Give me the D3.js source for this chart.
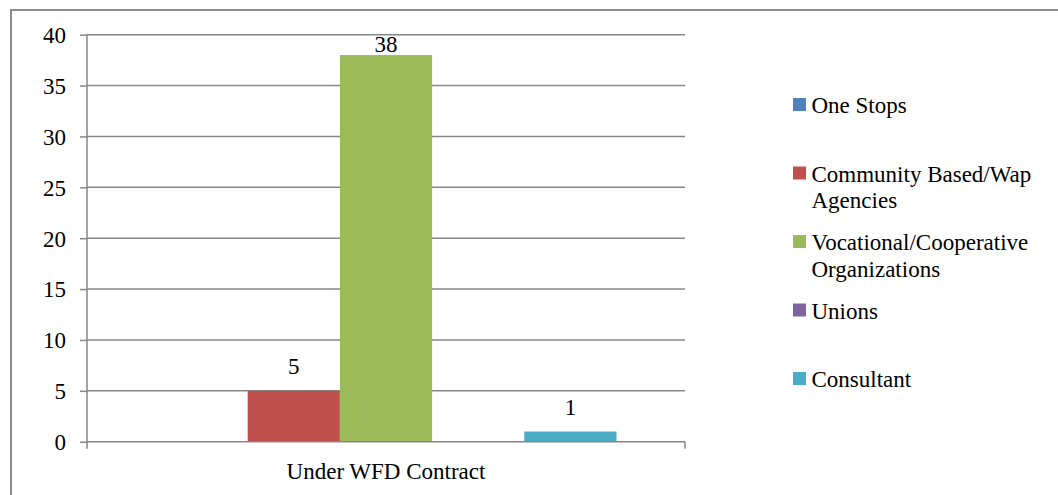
<!DOCTYPE html>
<html>
<head>
<meta charset="utf-8">
<script src="https://cdn.jsdelivr.net/npm/d3@7"></script>
</head>
<body style="margin:0; background:#fff">
<svg id="chart" width="1058" height="495"></svg>
<script>
const categories = ["Under WFD Contract"];
const seriesNames = ["One Stops", "Community Based/Wap Agencies", "Vocational/Cooperative Organizations", "Unions", "Consultant"];
const seriesValues = [0, 5, 38, 0, 1];
const seriesColors = ["#4F81BD", "#C0504D", "#9BBB59", "#8064A2", "#4BACC6"];
const legendLines = [["One Stops"], ["Community Based/Wap", "Agencies"], ["Vocational/Cooperative", "Organizations"], ["Unions"], ["Consultant"]];
const yTicks = [0, 5, 10, 15, 20, 25, 30, 35, 40];

const W = 1058, H = 495;
const margin = { top: 34.7, right: 373, bottom: 53.3, left: 87 };
const width = W - margin.left - margin.right;
const height = H - margin.top - margin.bottom;
const textStyle = "font-family:'Liberation Serif';font-size:23px";
const grid = "#878787";

const root = d3.select("#chart");

// outer frame (runs past the right and bottom edges)
root.append("rect")
    .attr("x", 11).attr("y", 10)
    .attr("width", 1200).attr("height", 700)
    .attr("fill", "none")
    .attr("stroke", "#8c8c8c")
    .attr("stroke-width", 2);

const svg = root.append("g")
    .attr("transform", `translate(${margin.left},${margin.top})`);

const y = d3.scaleLinear().domain([0, 40]).range([height, 0]);

const x0 = d3.scaleBand()
    .domain(categories)
    .range([0, width])
    .padding(0);

// bars take the middle of the category, Excel-style gap on each side
const groupInset = 68.5;
const x1 = d3.scaleBand()
    .domain(seriesNames)
    .range([groupInset, x0.bandwidth() - groupInset])
    .padding(0);

// gridlines
svg.selectAll(".grid")
    .data(yTicks.filter(d => d > 0))
    .enter().append("line")
    .attr("x1", 0).attr("x2", width)
    .attr("y1", d => y(d)).attr("y2", d => y(d))
    .attr("stroke", grid)
    .attr("stroke-width", 1.5);

// y axis
const yAxis = svg.append("g")
    .call(d3.axisLeft(y).tickValues(yTicks).tickSize(7).tickPadding(14));
yAxis.attr("font-family", null).attr("font-size", null);
yAxis.select(".domain").remove();
yAxis.selectAll(".tick line").attr("stroke", grid).attr("stroke-width", 1.5);
yAxis.selectAll(".tick text")
    .attr("style", textStyle)
    .attr("fill", "#000")
    .attr("dy", "0.34em");
svg.append("line")
    .attr("x1", 0).attr("x2", 0)
    .attr("y1", 0).attr("y2", height + 7)
    .attr("stroke", grid).attr("stroke-width", 1.5);

// bars
const groups = svg.selectAll(".group")
    .data(categories)
    .enter().append("g")
    .attr("transform", d => `translate(${x0(d)},0)`);

groups.selectAll("rect")
    .data(seriesNames.map((s, i) => ({ s, v: seriesValues[i], c: seriesColors[i] })))
    .enter().append("rect")
    .attr("x", d => x1(d.s))
    .attr("width", x1.bandwidth())
    .attr("y", d => y(d.v))
    .attr("height", d => height - y(d.v))
    .attr("fill", d => d.c);

groups.selectAll(".val")
    .data(seriesNames.map((s, i) => ({ s, v: seriesValues[i] })).filter(d => d.v > 0))
    .enter().append("text")
    .attr("x", d => x1(d.s) + x1.bandwidth() / 2)
    .attr("y", d => Math.max(y(d.v) - 17, y(40) + 17.5))
    .attr("text-anchor", "middle")
    .attr("style", textStyle)
    .text(d => d.v);

// x axis
svg.append("line")
    .attr("x1", 0).attr("x2", width)
    .attr("y1", height).attr("y2", height)
    .attr("stroke", grid).attr("stroke-width", 1.5);
svg.append("line")
    .attr("x1", width).attr("x2", width)
    .attr("y1", height).attr("y2", height + 7)
    .attr("stroke", grid).attr("stroke-width", 1.5);
svg.selectAll(".cat")
    .data(categories)
    .enter().append("text")
    .attr("x", d => x0(d) + x0.bandwidth() / 2)
    .attr("y", height + 37)
    .attr("text-anchor", "middle")
    .attr("style", textStyle)
    .text(d => d);

// legend
const legend = root.append("g").attr("transform", "translate(793,0)");
const legendY = d3.scalePoint().domain(seriesNames).range([104.5, 378.5]);
const item = legend.selectAll(".item")
    .data(seriesNames)
    .enter().append("g")
    .attr("transform", d => `translate(0,${legendY(d)})`);
item.append("rect")
    .attr("x", 0).attr("y", -6.5)
    .attr("width", 13).attr("height", 13)
    .attr("fill", (d, i) => seriesColors[i]);
item.append("text")
    .attr("x", 18.5)
    .attr("y", 8.5)
    .attr("style", textStyle)
    .selectAll("tspan")
    .data((d, i) => legendLines[i])
    .enter().append("tspan")
    .attr("x", 18.5)
    .attr("dy", (d, i) => i === 0 ? 0 : 26.5)
    .text(d => d);
</script>
</body>
</html>
